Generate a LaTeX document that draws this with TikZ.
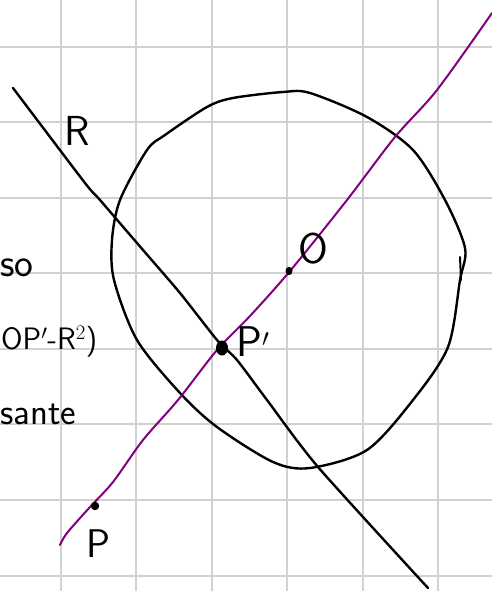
\documentclass[tikz,border=0pt]{standalone}
\usepackage{fontspec}
\definecolor{penviolet}{RGB}{130,0,128}
\begin{document}
\begin{tikzpicture}[x=1pt,y=-1pt,
  grid/.style={draw=black!18, line width=1.6pt},
  ink/.style={draw=black, line width=2.4pt, line cap=round, line join=round},
  violet ink/.style={draw=penviolet, line width=2pt, line cap=round, line join=round},
  lbl/.style={inner sep=0pt, anchor=base west, font=\sffamily},
  dotmark/.style={fill=black}]
\useasboundingbox (0,0) rectangle (492,591);
\fill[white] (0,0) rectangle (492,591);
% grid
\foreach \gx in {61,136,212,287,363,438} \draw[grid] (\gx,0) -- (\gx,591);
\foreach \gy in {47,122,198,273,349,424,500,576} \draw[grid] (0,\gy) -- (492,\gy);
% circle
\draw[ink] plot[smooth cycle, tension=0.5] coordinates {
 (120,200) (147,150) (165,135) (207,107) (233,98) (283,92) (310,93) (367,117)
 (413,150) (445,200) (465,248) (460,280) (448,347) (413,400) (367,450)
 (310,468) (273,462) (217,427) (180,393) (137,340) (114,280) (112,240)};
\draw[ink, line width=2pt] (460,257) -- (461,280);
% line R
\draw[ink] plot[smooth, tension=0.4] coordinates {
 (13,88) (85,183) (100,200) (143,250) (180,293) (217,340) (237,360)
 (267,400) (318,467) (428,588)};
% purple line
\draw[violet ink] plot[smooth, tension=0.5] coordinates {
 (60,545) (67,533) (90,507) (113,482) (143,440) (178,400) (217,350)
 (250,316) (290,271) (347,200) (395,137) (437,90) (492,13)};
% points
\coordinate (P) at (95,506);
\coordinate (O) at (289,271);
\coordinate (Pp) at (222,348);
\fill[dotmark] (P) circle (4.2);
\fill[dotmark] (O) ellipse (3.5 and 4.2);
\fill[dotmark] (Pp) ellipse (6 and 7.5);
% labels
\node[lbl, font=\sffamily\fontsize{42}{42}\selectfont] (lR) at (64,145) {R};
\node[lbl, font=\sffamily\fontsize{43}{43}\selectfont] (lO) at (298,263) {O};
\node[lbl, font=\sffamily\fontsize{43}{43}\selectfont] (lPp) at (236,356) {P$'$};
\node[lbl, font=\sffamily\fontsize{40}{40}\selectfont] (lP) at (86,557) {P};
\node[lbl, font=\sffamily\fontsize{40}{40}\selectfont] (tso) at (0,276) {so};
\node[lbl, font=\sffamily\fontsize{31}{31}\selectfont] (top) at (1,349) {OP$'$-R$^2$)};
\node[lbl, font=\sffamily\fontsize{37}{37}\selectfont] (tsa) at (0,424) {sante};
\end{tikzpicture}
\end{document}
